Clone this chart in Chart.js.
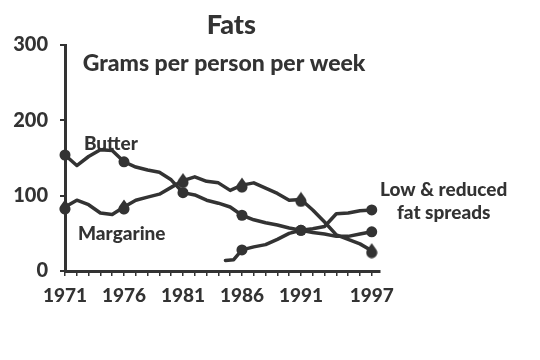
<!DOCTYPE html>
<html>
<head>
<meta charset="utf-8">
<script src="https://cdn.jsdelivr.net/npm/chart.js@4"></script>
<style>
  html, body { margin: 0; padding: 0; background: #fff; }
  #wrap { width: 540px; height: 360px; }
</style>
</head>
<body>
<div id="wrap"><canvas id="myChart" width="540" height="360"></canvas></div>
<script>
// values (grams per person per week)
const years = [1971, 1972, 1973, 1974, 1975, 1976, 1977, 1978, 1979, 1980, 1981, 1982, 1983, 1984,
  1985, 1986, 1987, 1988, 1989, 1990, 1991, 1992, 1993, 1994, 1995, 1996, 1997];
const butter = [154, 140, 152, 161, 160, 145, 138, 134, 131, 121, 104, 101, 94, 90,
  85, 74, 68, 64, 61, 57, 54, 51, 49, 46, 46, 49, 52];
const margarine = [85, 94, 88, 77, 75, 85, 94, 98, 102, 111, 120, 125, 119, 117,
  107, 114, 117, 110, 103, 94, 95, 81, 65, 48, 42, 36, 27];
const spreadYears = [1984.6, 1985.3, 1986, 1987, 1988, 1989, 1990, 1991, 1992, 1993, 1994, 1995, 1996, 1997];
const spreads = [14, 15, 28, 32, 35, 42, 50, 54, 56, 59, 76, 77, 80, 81];
const markedYears = [1971, 1976, 1981, 1986, 1991, 1997];
const yTicks = [0, 100, 200, 300];

const ink = '#333333';
const fontFamily = 'Lato, "DejaVu Sans", sans-serif';

// teardrop marker used for margarine
function makeDrop() {
  const c = document.createElement('canvas');
  c.width = 12;
  c.height = 16;
  const g = c.getContext('2d');
  const cx = 6, cy = 10, r = 5.5;
  const b = Math.acos(r / 9.5);
  g.fillStyle = ink;
  g.beginPath();
  g.arc(cx, cy, r, -Math.PI / 2 + b, -Math.PI / 2 - b);
  g.lineTo(cx, 0.5);
  g.closePath();
  g.fill();
  return c;
}
const drop = makeDrop();

const toPoints = (xs, ys) => xs.map((x, i) => ({ x: x, y: ys[i] }));
const markRadius = (ctx) => markedYears.includes(ctx.raw && ctx.raw.x) ? 5.5 : 0;

// text labels, drawn in data units through the scales
const labelPlugin = {
  id: 'labels',
  afterDraw(chart) {
    const c = chart.ctx;
    const xs = chart.scales.x;
    const ys = chart.scales.y;
    c.save();
    c.fillStyle = ink;
    c.textBaseline = 'middle';

    c.font = '900 27px ' + fontFamily;
    c.textAlign = 'center';
    c.fillText('Fats', xs.getPixelForValue(1985.1), ys.getPixelForValue(326));

    c.font = '900 23px ' + fontFamily;
    c.textAlign = 'left';
    c.fillText('Grams per person per week', xs.getPixelForValue(1972.5), ys.getPixelForValue(275));

    c.font = '900 19px ' + fontFamily;
    c.fillText('Butter', xs.getPixelForValue(1972.6), ys.getPixelForValue(169));
    c.fillText('Margarine', xs.getPixelForValue(1972.1), ys.getPixelForValue(49));

    c.textAlign = 'center';
    c.fillText('Low & reduced', xs.getPixelForValue(2003.1), ys.getPixelForValue(108));
    c.fillText('fat spreads', xs.getPixelForValue(2003.1), ys.getPixelForValue(77));
    c.restore();
  }
};

const ctx = document.getElementById('myChart').getContext('2d');
new Chart(ctx, {
  type: 'line',
  data: {
    datasets: [
      {
        label: 'Butter',
        data: toPoints(years, butter),
        pointStyle: 'circle',
        clip: false,
      },
      {
        label: 'Margarine',
        data: toPoints(years, margarine),
        pointStyle: drop,
        clip: false,
      },
      {
        label: 'Low & reduced fat spreads',
        data: toPoints(spreadYears, spreads),
        pointStyle: 'circle',
        clip: false,
      },
    ],
  },
  options: {
    responsive: false,
    animation: false,
    layout: { padding: { left: 0, right: 160, top: 45, bottom: 0 } },
    elements: {
      line: { borderColor: ink, borderWidth: 3.5, tension: 0, borderJoinStyle: 'round', borderCapStyle: 'round' },
      point: {
        radius: markRadius,
        hoverRadius: markRadius,
        backgroundColor: ink,
        borderColor: ink,
        borderWidth: 0,
      },
    },
    plugins: {
      legend: { display: false },
      tooltip: { enabled: false },
      title: { display: false },
    },
    scales: {
      x: {
        type: 'linear',
        min: 1971,
        max: 1997.7,
        afterBuildTicks: (scale) => {
          scale.ticks = years.map((y) => ({ value: y }));
        },
        afterFit: (scale) => { scale.height = 89; },
        border: { display: true, color: ink, width: 3 },
        grid: { drawOnChartArea: false, drawTicks: true, tickLength: 5, color: ink, lineWidth: 1.5 },
        ticks: {
          autoSkip: false,
          maxRotation: 0,
          padding: 8,
          color: ink,
          font: { family: fontFamily, size: 19, weight: '900' },
          callback: (v) => markedYears.includes(v) ? String(v) : '',
        },
      },
      y: {
        min: 0,
        max: 300,
        afterBuildTicks: (scale) => {
          scale.ticks = yTicks.map((v) => ({ value: v }));
        },
        afterFit: (scale) => { scale.width = 65; },
        border: { display: true, color: ink, width: 3 },
        grid: { drawOnChartArea: false, drawTicks: true, tickLength: 5, color: ink, lineWidth: 2 },
        ticks: {
          padding: 12,
          color: ink,
          font: { family: fontFamily, size: 20, weight: '900' },
        },
      },
    },
  },
  plugins: [labelPlugin],
});
</script>
</body>
</html>
